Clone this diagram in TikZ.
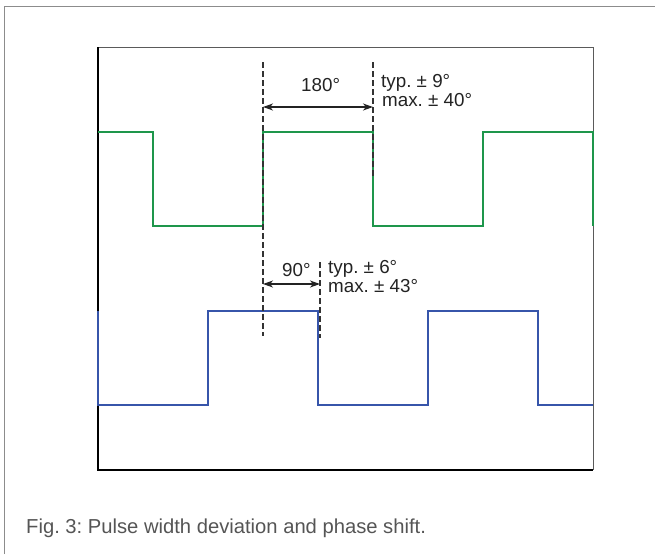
\documentclass[tikz,border=0pt]{standalone}
\usepackage{fontspec}
\setsansfont{Liberation Sans}
\usetikzlibrary{positioning, arrows.meta}
\definecolor{SignalGreen}{RGB}{30,150,75}
\definecolor{SignalBlue}{RGB}{55,85,170}
\definecolor{FrameGray}{RGB}{140,140,140}
\definecolor{BoxGray}{RGB}{90,90,90}
\definecolor{TextGray}{RGB}{85,85,85}
\definecolor{LabelBlack}{RGB}{35,35,35}
\frenchspacing

\begin{document}
\begin{tikzpicture}[x=1pt, y=-1pt, font=\sffamily,
    signal/.style={line width=2.6pt, line join=miter},
    marker/.style={black!80, line width=1.2pt, dash pattern=on 6pt off 3pt},
    span/.style={{Stealth[length=10pt,width=7pt,inset=3pt]}-{Stealth[length=10pt,width=7pt,inset=3pt]}, LabelBlack, line width=1.4pt},
    lbl/.style={LabelBlack, inner sep=0pt, anchor=base west, font=\sffamily\fontsize{18.8}{20}\selectfont}]
    \useasboundingbox (0,0) rectangle (655,554);

    % Outer frame
    \draw[FrameGray, line width=1.5pt] (4.5,554) -- (4.5,6.5) -- (655,6.5);

    % Plot box
    \coordinate (boxTL) at (98,47);
    \coordinate (boxTR) at (593,47);
    \coordinate (boxBL) at (98,470);
    \coordinate (boxBR) at (593,470);
    \draw[BoxGray, line width=1pt] (boxTL) -- (boxTR) -- (boxBR);
    \draw[black, line width=2.3pt] (boxTL) -- (boxBL) -- (boxBR);

    % Upper signal
    \draw[SignalGreen, signal] (98,132) -- (153,132) -- (153,226) -- (263,226) -- (263,132)
      -- (373,132) -- (373,226) -- (483,226) -- (483,132) -- (593,132) -- (593,226);

    % Lower signal
    \draw[SignalBlue, signal] (98,311) -- (98,405) -- (208,405) -- (208,311) -- (318,311)
      -- (318,405) -- (428,405) -- (428,311) -- (538,311) -- (538,405) -- (593,405);

    % Reference lines
    \coordinate (refAtop) at (263,62);
    \coordinate (refAbot) at (263,336);
    \coordinate (refBtop) at (373,62);
    \coordinate (refBbot) at (373,177);
    \coordinate (refCtop) at (320,262);
    \coordinate (refCbot) at (320,338);
    \draw[marker] (refAtop) -- (refAbot);
    \draw[marker] (refBtop) -- (refBbot);
    \draw[marker] (refCtop) -- (refCbot);

    % Pulse width
    \coordinate (pwL) at (263,107);
    \coordinate (pwR) at (373,107);
    \draw[span] (pwL) -- (pwR);
    \node[lbl] (pw) at (301,91) {180°};
    \node[lbl] (pwTyp) at (381,87) {typ. ± 9°};
    \node[lbl] (pwMax) at (382,106.5) {max. ± 40°};

    % Phase shift
    \coordinate (psL) at (263,284);
    \coordinate (psR) at (320,284);
    \draw[span] (psL) -- (psR);
    \node[lbl] (ps) at (282,276) {90°};
    \node[lbl] (psTyp) at (328,273) {typ. ± 6°};
    \node[lbl] (psMax) at (328,292.5) {max. ± 43°};

    % Caption
    \node[TextGray, inner sep=0pt, anchor=base west, font=\sffamily\fontsize{20.2}{22}\selectfont]
      (caption) at (26,533) {Fig. 3: Pulse width deviation and phase shift.};
\end{tikzpicture}
\end{document}
